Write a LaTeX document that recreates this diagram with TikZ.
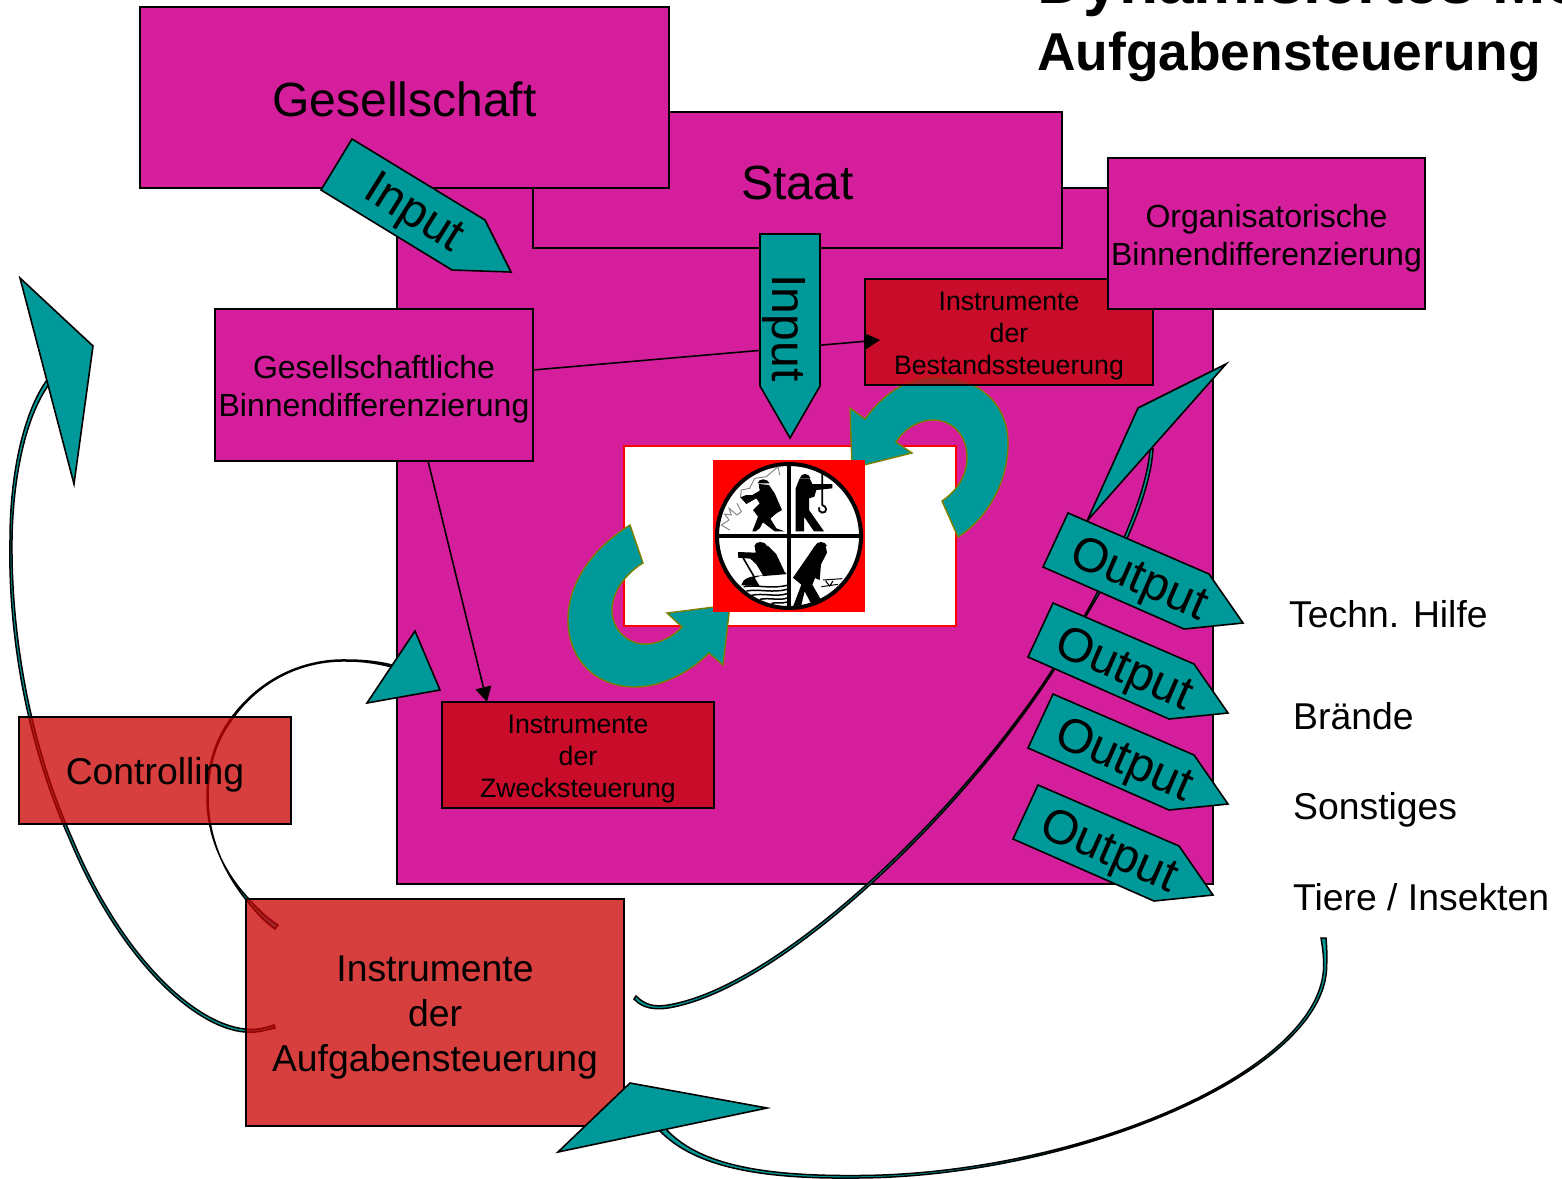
\documentclass[tikz,border=0pt]{standalone}
\usepackage{fontspec}
\setmainfont{Liberation Sans}
\usetikzlibrary{arrows.meta}
\definecolor{mag}{RGB}{212,30,155}
\definecolor{tealc}{RGB}{0,153,153}
\definecolor{arcedge}{RGB}{128,128,0}
\definecolor{ctrlred}{RGB}{203,1,1}
\definecolor{instred}{RGB}{200,8,16}
\tikzset{
  shapeline/.style={draw=black,line width=1.6pt},
  box/.style={shapeline,rectangle,inner sep=0pt,outer sep=0pt,align=center,text=black},
  magbox/.style={box,fill=mag},
  ctrlbox/.style={box,fill=ctrlred,fill opacity=.76,text opacity=1},
  instbox/.style={box,fill=instred,fill opacity=.8,text opacity=1,font=\fontsize{26.67}{32}\selectfont},
  bigtext/.style={font=\fontsize{48}{48}\selectfont},
  midtext/.style={font=\fontsize{37.33}{45}\selectfont},
  smalltext/.style={font=\fontsize{32}{38}\selectfont},
  arrowshape/.style={shapeline,fill=tealc,line join=miter},
  thincurve/.style={draw=black,line width=1.5pt,fill=tealc},
  blockarc/.style={draw=arcedge,line width=1.4pt,fill=tealc},
  arrowlabel/.style={bigtext,inner sep=0pt,text=black},
  sidelabel/.style={midtext,anchor=base west,inner sep=0pt,text=black},
  titlelabel/.style={font=\bfseries\fontsize{53.33}{64}\selectfont,anchor=base west,inner sep=0pt,text=black},
  titlebig/.style={titlelabel,font=\bfseries\fontsize{64}{64}\selectfont},
  thinarrow/.style={draw=black,line width=1.6pt,-{Triangle[length=15pt,width=16pt]}},
  iconink/.style={fill=black,draw=none}
}
% invisible rules that fix the height of a first line and the depth of a last line
\newcommand{\firstup}[1]{\rule{0pt}{#1pt}}
\newcommand{\lastdown}{\rule[-10pt]{0pt}{10pt}}
\newcommand{\outputarrow}[3]{%
  \draw[arrowshape,shift={(#2,#3)}] (1068,513) -- (1209,574) -- (1243,623) -- (1184,629) -- (1043,567) -- cycle;
  \node[arrowlabel,rotate=-23.5] (#1) at (1138+#2,581+#3) {Output};
}
\begin{document}
\begin{tikzpicture}[x=1pt,y=-1pt]
\useasboundingbox (0,0) rectangle (1562,1178);
\clip (0,0) rectangle (1562,1178);

% main field
\node[magbox,minimum width=816,minimum height=696] (field) at (805,536) {};
% upper boxes
\node[magbox,bigtext,minimum width=529,minimum height=136] (staat) at (797.5,180) {\firstup{48}Staat\lastdown};
\node[magbox,bigtext,minimum width=529,minimum height=181] (gesell) at (404.5,97.5) {\firstup{47}Gesellschaft\lastdown};

% white panel with red frame
\node[rectangle,draw=red,line width=2pt,fill=white,minimum width=332,minimum height=180,inner sep=0pt,outer sep=0pt] (panel) at (790,536) {};

% curved block arrows
\draw[blockarc] (630,525) -- (643,563) .. controls (628,572) and (612,590) .. (612,610)
  .. controls (612,630) and (628,644) .. (645,644) .. controls (660,644) and (674,636) .. (682,627)
  -- (667,613) -- (730,605) -- (723,665) -- (709,653)
  .. controls (690,672) and (662,687) .. (635,687) .. controls (596,687) and (568,660) .. (568,620)
  .. controls (568,580) and (596,546) .. (630,525) -- cycle;
\draw[blockarc] (850,408) -- (865,419) .. controls (880,398) and (905,377) .. (935,377)
  .. controls (980,377) and (1008,405) .. (1008,443) .. controls (1008,485) and (985,520) .. (958,537)
  -- (942,501) .. controls (958,490) and (967,475) .. (967,457)
  .. controls (967,435) and (952,420) .. (933,420) .. controls (918,420) and (903,430) .. (896,442)
  -- (912,453) -- (852,468) -- cycle;

% thin curved connectors with their heads
\draw[thincurve] (275,1028) .. controls (262,1031) and (255,1033) .. (245,1032)
  .. controls (195,1028) and (120,960) .. (70,840) .. controls (25,740) and (8,630) .. (10,540)
  .. controls (10,470) and (25,410) .. (47,380)
  -- (50,383) .. controls (28,412) and (13,470) .. (12,540) .. controls (11,630) and (28,740) .. (72,838)
  .. controls (122,958) and (195,1024) .. (245,1029) .. controls (255,1030) and (262,1029) .. (274,1025) -- cycle;
\draw[thincurve] (275,929) .. controls (262,920) and (253,908) .. (247,901)
  .. controls (222,870) and (208,835) .. (208,797) .. controls (208,760) and (220,735) .. (233,718)
  .. controls (262,678) and (305,660) .. (347,661) .. controls (365,661) and (380,664) .. (392,667)
  -- (392,665) .. controls (380,662) and (365,660) .. (347,660) .. controls (305,659) and (262,677) .. (232,717)
  .. controls (219,734) and (207,760) .. (207,797) .. controls (207,835) and (222,870) .. (248,898)
  .. controls (255,906) and (265,917) .. (278,925) -- cycle;
\draw[thincurve] (636,996) .. controls (646,1006) and (656,1007) .. (668,1005)
  .. controls (790,985) and (1000,775) .. (1085,615)
  .. controls (1110,570) and (1146,500) .. (1150,450)
  -- (1153,449) .. controls (1150,500) and (1113,572) .. (1086,616)
  .. controls (1001,777) and (791,988) .. (668,1008)
  .. controls (654,1010) and (642,1008) .. (634,999) -- cycle;
\draw[thincurve] (1321,938) .. controls (1323,950) and (1324,958) .. (1323.5,970)
  .. controls (1316,1075) and (1070,1176) .. (854,1175.5)
  .. controls (760,1176) and (697,1164) .. (665,1128)
  -- (660,1131) .. controls (695,1167) and (760,1179) .. (854,1178)
  .. controls (1070,1178) and (1320,1075) .. (1326.5,970) .. controls (1327,958) and (1327,950) .. (1326,938) -- cycle;

% red boxes
\node[ctrlbox,midtext,minimum width=272,minimum height=107] (controlling) at (155,770.5) {\firstup{38}Controlling\lastdown};
\node[ctrlbox,midtext,minimum width=378,minimum height=227] (aufgaben) at (435,1012.5) {\firstup{37}Instrumente\\der\\Aufgabensteuerung\lastdown};
\node[instbox,minimum width=288,minimum height=106] (bestand) at (1009,332) {\firstup{30}Instrumente\\der\\Bestandssteuerung\lastdown};
\node[instbox,minimum width=272,minimum height=106] (zweck) at (578,755) {\firstup{30}Instrumente\\der\\Zwecksteuerung\lastdown};

% magenta differentiation boxes
\node[magbox,smalltext,minimum width=318,minimum height=152] (gbd) at (374,385) {\firstup{34}Gesellschaftliche\\Binnendifferenzierung\lastdown};
\node[magbox,smalltext,minimum width=317,minimum height=151] (obd) at (1266.5,233.5) {\firstup{35}Organisatorische\\Binnendifferenzierung\lastdown};

% thin straight connectors
\coordinate (gbdA) at (533,370);
\coordinate (bestandA) at (880,340);
\coordinate (gbdB) at (428,461);
\coordinate (zweckA) at (487,702);
\draw[thinarrow] (gbdA) -- (bestandA);
\draw[thinarrow] (gbdB) -- (zweckA);

% input arrows
\draw[arrowshape] (352,139) -- (485,220) -- (511,272) -- (452,270) -- (321,190) -- cycle;
\node[arrowlabel,rotate=-32] (input1) at (413,215) {Input};
\draw[arrowshape] (760,234) -- (820,234) -- (820,386) -- (790,438) -- (760,386) -- cycle;
\node[arrowlabel,rotate=-90] (input2) at (784,328) {Input};

% arrow heads of the thin connectors
\draw[arrowshape] (20,278) -- (93,346) -- (74,484) -- cycle;
\draw[arrowshape] (415,631) -- (440,690) -- (367,703) -- cycle;
\draw[arrowshape] (1226,364) -- (1138,408) -- (1087,521) -- cycle;
\draw[arrowshape] (630,1083) -- (767,1108) -- (558,1152) -- cycle;

% output arrows
\outputarrow{out1}{0}{0}
\outputarrow{out2}{-15}{90}
\outputarrow{out3}{-15}{181}
\outputarrow{out4}{-30}{272}

% side labels
\node[sidelabel] (hilfe) at (1289,627) {Techn. Hilfe};
\node[sidelabel] (braende) at (1293,729) {Brände};
\node[sidelabel] (sonst) at (1293,819) {Sonstiges};
\node[sidelabel] (tiere) at (1293,910) {Tiere / Insekten};

% title
\node[titlebig] (title1) at (1037,3) {Dynamisiertes Mo};
\node[titlelabel] (title2) at (1037,70) {Aufgabensteuerung};

% emblem
\fill[red] (713,460) rectangle (865,612);
\draw[black,line width=4pt,fill=white] (789,536) circle (72);
\draw[black,line width=4pt] (789,464) -- (789,608) (717,536) -- (861,536);
\begin{scope}[shift={(713,460)},scale=0.33333]
  \fill[iconink] (134,70) .. controls (136,54) and (164,54) .. (170,70) -- cycle;
  \fill[iconink] (137,72) -- (168,75) -- (185,100) -- (207,150) -- (190,160) -- (172,176) -- (190,205) -- (215,214) -- (185,214) -- (150,187) -- (140,205) -- (128,214) -- (118,214) -- (135,170) -- (120,150) -- (140,130) -- (130,115) -- (100,132) -- (82,112) -- (100,105) -- (118,105) -- (140,92) -- cycle;
  \draw[gray,line width=.9pt] (50,210) -- (25,195) -- (48,180) -- (35,162) -- (55,165) -- (48,145) -- (72,165) -- (85,155) -- (72,130);
  \draw[gray,line width=.9pt] (82,112) -- (85,90) -- (110,85) -- (125,55) -- (160,50) -- (195,20) -- (200,45);
\end{scope}
\begin{scope}[shift={(789,460)},scale=0.33333]
  \fill[iconink] (33,54) .. controls (36,38) and (60,38) .. (64,54) -- cycle;
  \fill[iconink] (32,55) -- (62,55) -- (70,72) -- (130,72) -- (130,85) -- (82,90) -- (76,110) -- (60,115) -- (60,150) -- (105,214) -- (75,214) -- (45,170) -- (45,214) -- (20,214) -- (20,85) -- cycle;
  \draw[black,line width=1.8pt] (100,35) -- (100,135) .. controls (115,140) and (115,158) .. (100,158) .. controls (92,158) and (88,150) .. (90,142);
\end{scope}
\begin{scope}[shift={(713,536)},scale=0.33333]
  \fill[iconink] (124,30) .. controls (126,14) and (158,14) .. (162,30) -- cycle;
  \fill[iconink] (125,30) -- (165,30) -- (190,55) -- (217,112) -- (150,118) -- (130,85) -- (112,68) -- (75,65) -- (75,48) -- (128,50) -- cycle;
  \draw[black,line width=1.6pt] (90,65) -- (125,125);
  \fill[iconink] (85,148) .. controls (88,130) and (105,120) .. (148,118) -- (125,125) .. controls (130,135) and (135,140) .. (140,150) -- cycle;
  \draw[black,line width=1.6pt] (148,118) -- (220,112);
  \draw[black,line width=1.5pt] (92,152) .. controls (130,145) and (170,160) .. (222,148)
    (100,165) .. controls (140,158) and (180,172) .. (222,160)
    (115,178) .. controls (150,170) and (190,184) .. (222,173)
    (140,190) .. controls (170,184) and (200,195) .. (222,186)
    (175,202) .. controls (190,198) and (205,204) .. (222,198);
\end{scope}
\begin{scope}[shift={(713,536)},scale=0.33333]
  \fill[iconink] (306,30) .. controls (310,14) and (338,14) .. (342,30) -- cycle;
  \fill[iconink] (305,30) -- (338,30) -- (342,50) -- (324,85) -- (320,132) -- (306,126) -- (298,146) -- (326,195) -- (296,206) -- (275,166) -- (265,207) -- (240,212) -- (265,146) -- (240,125) -- (285,60) -- cycle;
  \draw[black,line width=1pt] (330,132) -- (388,128) (338,135) -- (350,150) -- (360,135) (325,152) -- (375,145);
\end{scope}
\end{tikzpicture}
\end{document}
